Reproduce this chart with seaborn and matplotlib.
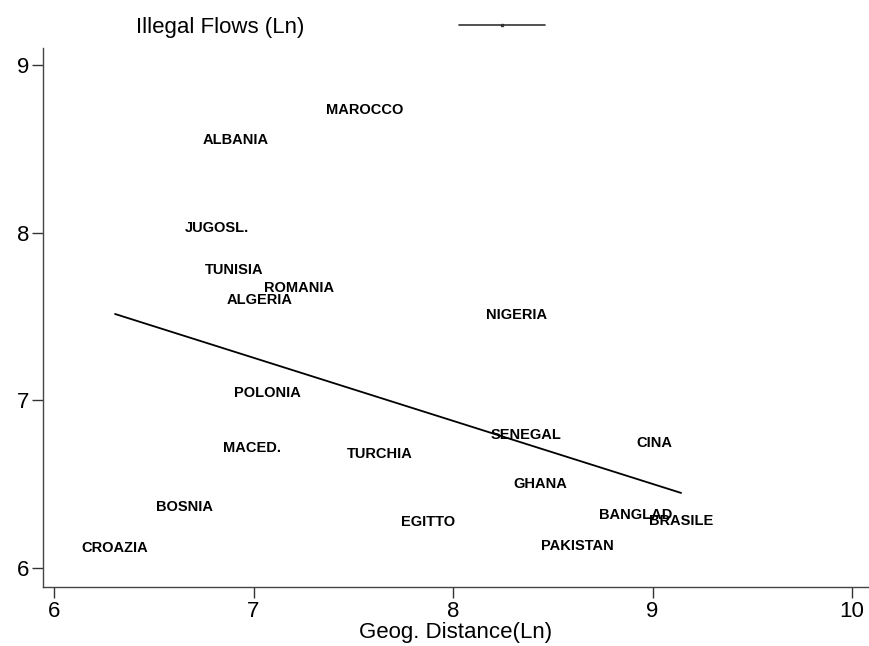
import numpy as np
import pandas as pd
import matplotlib
matplotlib.use("Agg")
import matplotlib.pyplot as plt
from matplotlib.lines import Line2D
import seaborn as sns

# Country labels with log geographic distance and log illegal flows
countries = ["MAROCCO", "ALBANIA", "JUGOSL.", "TUNISIA", "ROMANIA", "ALGERIA",
             "NIGERIA", "POLONIA", "SENEGAL", "CINA", "MACED.", "TURCHIA",
             "GHANA", "BOSNIA", "BANGLAD", "BRASILE", "EGITTO", "PAKISTAN",
             "CROAZIA"]
distance_ln = [7.559, 6.912, 6.817, 6.902, 7.228, 7.033,
               8.321, 7.068, 8.366, 9.008, 6.992, 7.634,
               8.436, 6.652, 8.917, 9.143, 7.875, 8.622,
               6.306]
flows_ln = [8.732, 8.553, 8.028, 7.778, 7.670, 7.599,
            7.509, 7.044, 6.794, 6.746, 6.716, 6.680,
            6.501, 6.364, 6.317, 6.281, 6.275, 6.132,
            6.120]
# Fitted values at the smallest and largest distance
fit_dist = [6.306, 9.143]
fit_flows = [7.515, 6.448]
x_ticks = [6, 7, 8, 9, 10]
y_ticks = [6, 7, 8, 9]

df = pd.DataFrame({"country": countries, "dist": distance_ln, "flows": flows_ln})
fit = pd.DataFrame({"dist": fit_dist, "flows": fit_flows})

sns.set_theme(style="white")
plt.rcParams["font.family"] = ["Liberation Sans", "DejaVu Sans"]
plt.rcParams["text.color"] = "black"
plt.rcParams["axes.labelcolor"] = "black"

fig = plt.figure(figsize=(8.69, 6.46), dpi=100)
ax = fig.add_axes([0.0495, 0.0913, 0.9505, 0.8344])

# Fitted line
sns.lineplot(data=fit, x="dist", y="flows", color="black", linewidth=1.3,
             ax=ax)

# Country names drawn at the data positions
for name, xv, yv in zip(df["country"], df["dist"], df["flows"]):
    ax.text(xv, yv, name, ha="center", va="center", fontsize=10.5,
            fontweight="bold", color="black")

ax.set_xlim(5.945, 10.085)
ax.set_ylim(5.887, 9.101)
ax.set_xticks(x_ticks)
ax.set_yticks(y_ticks)
ax.tick_params(axis="both", direction="out", length=8, width=1,
               color="#333333", labelsize=16, pad=2, labelcolor="black")
ax.tick_params(left=True, bottom=True)
for side in ["top", "right"]:
    ax.spines[side].set_visible(False)
for side in ["left", "bottom"]:
    ax.spines[side].set_color("#444444")
    ax.spines[side].set_linewidth(1.0)
ax.set_xlabel("Geog. Distance(Ln)", fontsize=16, labelpad=0, color="black")
ax.set_ylabel("")

handles = [Line2D([], [], linestyle="none"),
           Line2D([], [], color="#333333", linewidth=1.2, marker="s",
                  markersize=1.5)]
fig.legend(handles, ["Illegal Flows (Ln)", ""], loc="center left",
           bbox_to_anchor=(0.0437, 1 - 27 / 646), ncol=2, frameon=False,
           fontsize=16, handlelength=3.9, handletextpad=0.5,
           columnspacing=6.95, borderpad=0, borderaxespad=0, numpoints=1,
           labelcolor="black")

fig.savefig("out.png", dpi=100)
